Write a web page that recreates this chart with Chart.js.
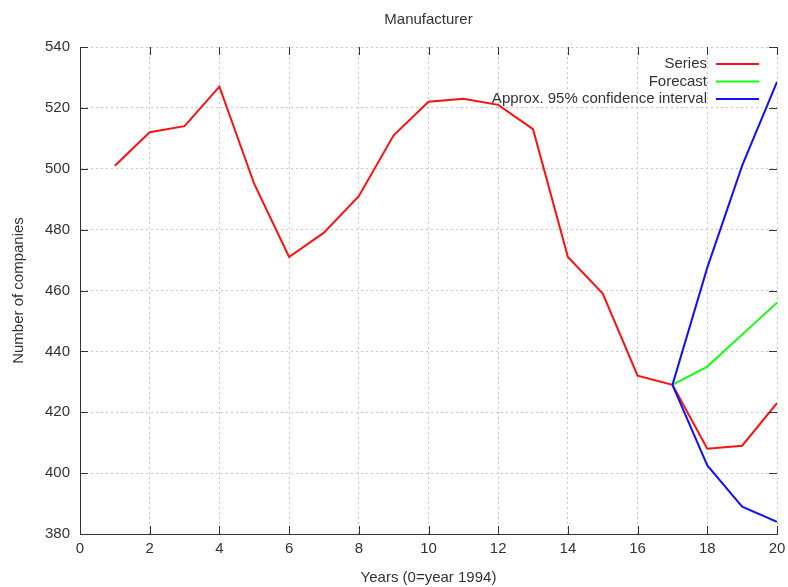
<!DOCTYPE html>
<html lang="en">
<head>
    <meta charset="UTF-8">
    <title>Manufacturer</title>
    <script src="https://cdn.jsdelivr.net/npm/chart.js"></script>
    <style>
        html, body { margin: 0; padding: 0; background: #fff; }
        #wrap { width: 788px; height: 587px; }
    </style>
</head>
<body>
    <div id="wrap"><canvas id="chart" width="788" height="587"></canvas></div>

    <script>
        // data
        const chartTitle = 'Manufacturer';
        const years = [1, 2, 3, 4, 5, 6, 7, 8, 9, 10, 11, 12, 13, 14, 15, 16, 17, 18, 19, 20];
        const series = [501, 512, 514, 527, 495, 471, 479, 491, 511, 522, 523, 521, 513, 471, 459, 432, 429, 408, 409, 423];
        const forecastYears = [17, 18, 19, 20];
        const forecast = [429, 435, 445.5, 456];
        const ciUpper = [429, 467.5, 501, 528.5];
        const ciLower = [429, 402.5, 389, 384];
        const xTicks = [0, 2, 4, 6, 8, 10, 12, 14, 16, 18, 20];
        const yTicks = [380, 400, 420, 440, 460, 480, 500, 520, 540];

        const FONT = 'Liberation Sans, Arial, sans-serif';
        const TEXT = '#333';

        function pts(xs, ys) {
            return xs.map((x, i) => ({ x: x, y: ys[i] }));
        }

        // gnuplot style inward ticks on all four sides
        const tickMarks = {
            id: 'tickMarks',
            afterDraw(chart) {
                const { ctx, chartArea: a, scales: { x, y } } = chart;
                ctx.save();
                ctx.strokeStyle = '#333';
                ctx.lineWidth = 1;
                ctx.beginPath();
                xTicks.forEach(v => {
                    const px = Math.round(x.getPixelForValue(v)) + 0.5;
                    ctx.moveTo(px, a.bottom); ctx.lineTo(px, a.bottom - 8);
                    ctx.moveTo(px, a.top); ctx.lineTo(px, a.top + 8);
                });
                yTicks.forEach(v => {
                    const py = Math.round(y.getPixelForValue(v)) + 0.5;
                    ctx.moveTo(a.left, py); ctx.lineTo(a.left + 8, py);
                    ctx.moveTo(a.right, py); ctx.lineTo(a.right - 8, py);
                });
                ctx.stroke();
                ctx.restore();
            }
        };

        // title centred over the plot area, not the whole canvas
        const plotTitle = {
            id: 'plotTitle',
            afterDraw(chart) {
                const { ctx, chartArea: a } = chart;
                ctx.save();
                ctx.font = '15px ' + FONT;
                ctx.fillStyle = TEXT;
                ctx.textAlign = 'center';
                ctx.textBaseline = 'middle';
                ctx.fillText(chartTitle, (a.left + a.right) / 2, 20);
                ctx.restore();
            }
        };

        // legend inside the plot, top right, text then line sample
        const insideLegend = {
            id: 'insideLegend',
            afterDatasetsDraw(chart) {
                const { ctx, chartArea: a } = chart;
                const items = chart.data.datasets.filter(d => !d.hideInLegend);
                ctx.save();
                ctx.font = '15px ' + FONT;
                ctx.fillStyle = TEXT;
                ctx.textAlign = 'right';
                ctx.textBaseline = 'middle';
                items.forEach((d, i) => {
                    const yy = a.top + 17 + i * 17.5;
                    ctx.fillText(d.label, a.right - 70, yy);
                    ctx.strokeStyle = d.borderColor;
                    ctx.lineWidth = 2;
                    ctx.beginPath();
                    ctx.moveTo(a.right - 61, yy);
                    ctx.lineTo(a.right - 18, yy);
                    ctx.stroke();
                });
                ctx.restore();
            }
        };

        const lineStyle = { borderWidth: 2, pointRadius: 0, fill: false, tension: 0 };

        new Chart(document.getElementById('chart'), {
            type: 'line',
            data: {
                datasets: [
                    { label: 'Series', data: pts(years, series), borderColor: '#ff1010', order: 4, ...lineStyle },
                    { label: 'Forecast', data: pts(forecastYears, forecast), borderColor: '#10ff10', order: 3, ...lineStyle },
                    { label: 'Approx. 95% confidence interval', data: pts(forecastYears, ciUpper), borderColor: '#1010ff', order: 2, ...lineStyle },
                    { label: 'lower', hideInLegend: true, data: pts(forecastYears, ciLower), borderColor: '#1010ff', order: 1, ...lineStyle }
                ]
            },
            options: {
                responsive: false,
                animation: false,
                layout: { padding: { left: 0, right: 11, top: 47, bottom: 0 } },
                plugins: {
                    legend: { display: false },
                    tooltip: { enabled: false },
                    title: { display: false }
                },
                scales: {
                    x: {
                        type: 'linear',
                        min: 0, max: 20,
                        afterBuildTicks: s => { s.ticks = xTicks.map(v => ({ value: v })); },
                        afterFit: s => { s.height = 53; s.paddingRight = 0; s.paddingTop = 0; },
                        ticks: { color: TEXT, font: { family: FONT, size: 15 }, padding: 6, maxRotation: 0 },
                        grid: { color: '#c8c8c8', drawTicks: false, lineWidth: 1 },
                        border: { color: '#333', width: 1, dash: [2, 3] },
                        title: {
                            display: true,
                            text: 'Years (0=year 1994)',
                            color: TEXT,
                            font: { family: FONT, size: 15 },
                            padding: { top: 0, bottom: 0 }
                        }
                    },
                    y: {
                        min: 380, max: 540,
                        afterBuildTicks: s => { s.ticks = yTicks.map(v => ({ value: v })); },
                        afterFit: s => { s.width = 80; s.paddingTop = 0; },
                        ticks: { color: TEXT, font: { family: FONT, size: 15 }, padding: 10 },
                        grid: { color: '#c8c8c8', drawTicks: false, lineWidth: 1 },
                        border: { color: '#333', width: 1, dash: [2, 3] },
                        title: {
                            display: true,
                            text: 'Number of companies',
                            color: TEXT,
                            font: { family: FONT, size: 15 },
                            padding: { top: 10, bottom: 0 }
                        }
                    }
                }
            },
            plugins: [tickMarks, plotTitle, insideLegend]
        });
    </script>
</body>
</html>
